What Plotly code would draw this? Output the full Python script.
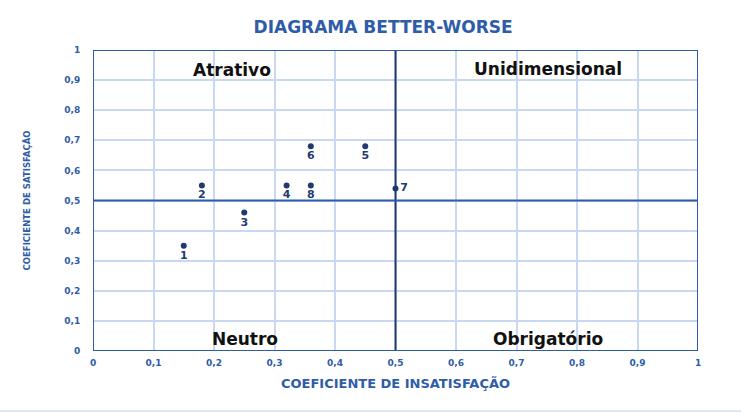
import plotly.graph_objects as go

# Data
labels = ["1", "2", "3", "4", "5", "6", "7", "8"]
insatisfacao = [0.15, 0.18, 0.25, 0.32, 0.45, 0.36, 0.50, 0.36]
satisfacao = [0.35, 0.55, 0.46, 0.55, 0.68, 0.68, 0.54, 0.55]
label_pos = ["bottom center"] * 6 + ["middle right", "bottom center"]

tick_vals = [0, 0.1, 0.2, 0.3, 0.4, 0.5, 0.6, 0.7, 0.8, 0.9, 1]
tick_text = ["0", "0,1", "0,2", "0,3", "0,4", "0,5", "0,6", "0,7", "0,8", "0,9", "1"]

quadrants = ["Atrativo", "Unidimensional", "Neutro", "Obrigatório"]
quad_x = [0.23, 0.752, 0.252, 0.752]
quad_y = [0.935, 0.937, 0.04, 0.04]
threshold = 0.5

BLUE = "#2F5CA8"
NAVY = "#1F3A70"
GRID = "#C9D8F2"
FONT = "DejaVu Sans"

fig = go.Figure()
fig.add_trace(go.Scatter(
    x=insatisfacao, y=satisfacao, mode="markers+text",
    text=labels, textposition=label_pos,
    textfont=dict(family=FONT, size=11, color=NAVY, weight="bold"),
    marker=dict(size=6, color=NAVY),
    cliponaxis=False, showlegend=False,
))

for name, qx, qy in zip(quadrants, quad_x, quad_y):
    fig.add_annotation(x=qx, y=qy, text=name, showarrow=False,
                       font=dict(family=FONT, size=17, color="#111111", weight="bold"))

fig.add_shape(type="line", x0=threshold, x1=threshold, y0=0, y1=1,
              line=dict(color=NAVY, width=2), layer="above")
fig.add_shape(type="line", x0=0, x1=1, y0=threshold, y1=threshold,
              line=dict(color=BLUE, width=2), layer="above")
fig.add_shape(type="rect", x0=0, x1=1, y0=0, y1=1,
              line=dict(color=BLUE, width=2), layer="above")
fig.add_shape(type="line", xref="paper", yref="paper", x0=-0.2, x1=1.2,
              y0=-0.2, y1=-0.2, line=dict(color="#DDE3EE", width=2))

axis_common = dict(
    range=[0, 1], tickvals=tick_vals, ticktext=tick_text,
    showgrid=True, gridcolor=GRID, gridwidth=2, zeroline=False,
    showline=False, ticks="outside", tickcolor="rgba(0,0,0,0)",
    tickfont=dict(family=FONT, size=9, color=BLUE, weight="bold"),
)

fig.update_layout(
    width=741, height=412,
    margin=dict(l=93, r=43, t=50, b=61),
    paper_bgcolor="white", plot_bgcolor="white",
    title=dict(text="DIAGRAMA BETTER-WORSE", x=0.517, xanchor="center",
               y=0.935, yanchor="middle",
               font=dict(family=FONT, size=17, color=BLUE, weight="bold")),
    xaxis=dict(**axis_common, ticklen=3,
               title=dict(text="COEFICIENTE DE INSATISFAÇÃO", standoff=12,
                          font=dict(family=FONT, size=13, color=BLUE, weight="bold"))),
    yaxis=dict(**axis_common, ticklen=10,
               title=dict(text="COEFICIENTE DE SATISFAÇÃO", standoff=31,
                          font=dict(family="DejaVu Sans Condensed, Liberation Sans, sans-serif",
                                    size=9.5, color=BLUE, weight="bold"))),
)

fig.write_html("out.html")
